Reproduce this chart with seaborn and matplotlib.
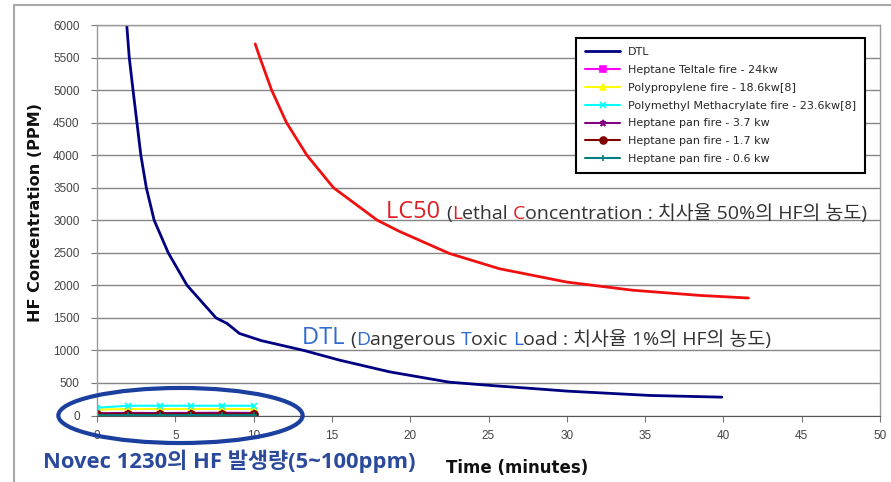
import matplotlib
matplotlib.use("Agg")
import matplotlib.pyplot as plt
import seaborn as sns
from matplotlib.patches import Ellipse
from matplotlib.lines import Line2D

# =============================
# Data
# =============================
dtl_time = [1.9, 2.06, 2.3, 2.55, 2.8, 3.15, 3.65, 4.55, 5.75, 7.6, 8.3, 9.1,
            10.5, 13.2, 15.5, 18.7, 22.5, 25.5, 27.8, 30.0, 35.3, 39.9]
dtl_hf = [6000, 5500, 5000, 4500, 4000, 3500, 3000, 2500, 2000, 1500, 1415, 1260,
          1150, 1000, 850, 670, 512, 455, 415, 375, 308, 282]

lc50_time = [10.1, 10.4, 11.15, 12.1, 13.4, 15.1, 17.9, 19.3, 22.5, 25.7, 30.0, 34.2, 38.5, 41.6]
lc50_hf = [5710, 5500, 5000, 4500, 4000, 3500, 3000, 2830, 2490, 2255, 2050, 1925, 1845, 1805]

fire_time = [0, 2, 4, 6, 8, 10]
teltale_24kw = [10, 12, 10, 12, 10, 12]
polypropylene = [90, 100, 100, 100, 100, 100]
pmma = [120, 150, 150, 150, 150, 150]
heptane_37kw = [35, 40, 38, 40, 42, 40]
heptane_17kw = [20, 22, 20, 22, 20, 22]
heptane_06kw = [5, 6, 5, 6, 5, 6]

fire_series = [
    ("Heptane Teltale fire - 24kw", teltale_24kw, "#ff00ff", "s"),
    ("Polypropylene fire - 18.6kw[8]", polypropylene, "#ffff00", "^"),
    ("Polymethyl Methacrylate fire - 23.6kw[8]", pmma, "#00ffff", "x"),
    ("Heptane pan fire - 3.7 kw", heptane_37kw, "#800080", "*"),
    ("Heptane pan fire - 1.7 kw", heptane_17kw, "#800000", "o"),
    ("Heptane pan fire - 0.6 kw", heptane_06kw, "#008080", "+"),
]

x_ticks = list(range(0, 51, 5))
y_ticks = list(range(0, 6001, 500))

# =============================
# Style
# =============================
sns.set_style("white")
plt.rcParams["font.family"] = ["Liberation Sans", "DejaVu Sans"]
KR = ["Open Sans", "Noto Sans CJK KR", "DejaVu Sans"]

W, H = 891, 482
fig = plt.figure(figsize=(W / 100, H / 100), dpi=100)
x0, x1, ytop, ybot = 97, 880, 25, 415.5
ax = fig.add_axes([x0 / W, (H - ybot) / H, (x1 - x0) / W, (ybot - ytop) / H])

# =============================
# Plotting
# =============================
sns.lineplot(x=dtl_time, y=dtl_hf, color="#000080", linewidth=2.0, label="DTL",
             sort=False, ax=ax)
for name, vals, col, mk in fire_series:
    sns.lineplot(x=fire_time, y=vals, color=col, marker=mk, markersize=5,
                 markeredgecolor=col, markeredgewidth=1.2, linewidth=1.5,
                 label=name, ax=ax)
sns.lineplot(x=lc50_time, y=lc50_hf, color="#f01010", linewidth=2.0, legend=False,
             sort=False, ax=ax)

ax.set_xlim(0, 50)
ax.set_ylim(0, 6000)
ax.set_xticks(x_ticks)
ax.set_yticks(y_ticks)
ax.yaxis.grid(True, color="#858585", linewidth=1.0)
ax.xaxis.grid(False)
for side in ["top", "right", "left"]:
    ax.spines[side].set_color("#9a9a9a")
    ax.spines[side].set_linewidth(1.0)
ax.spines["bottom"].set_color("#555555")
ax.tick_params(axis="both", direction="out", length=4.5, width=0.8, color="#777777",
               labelsize=8.5, labelcolor="#444444")
ax.tick_params(axis="y", pad=8, left=True)
ax.tick_params(axis="x", pad=6, bottom=True)

ax.set_ylabel("HF Concentration (PPM)", fontsize=11.6, fontweight="bold", color="#111111",
              family="DejaVu Sans")
ax.yaxis.set_label_coords((43 - x0) / (x1 - x0), (ybot - 212) / (ybot - ytop))
ax.set_xlabel("Time (minutes)", fontsize=12, fontweight="bold", color="#111111",
              family="DejaVu Sans")
ax.xaxis.set_label_coords((517 - x0) / (x1 - x0), (ybot - 459) / (ybot - ytop))

leg = ax.legend(loc="upper right", bbox_to_anchor=(0.981, 0.967), frameon=True,
                fancybox=False, edgecolor="black", framealpha=1,
                prop={"family": "DejaVu Sans", "size": 8},
                handlelength=3.1, labelspacing=0.7, borderpad=0.85,
                handletextpad=0.7, borderaxespad=0)
leg.get_frame().set_linewidth(1.5)


# =============================
# Annotations
# =============================
def colored_text(x, y, head, parts, big=17, small=14):
    t = ax.text(x, y, head[0], color=head[1], fontsize=big, family=KR, va="baseline")
    for i, (s, c) in enumerate(parts):
        dy = 0.5 if i == 0 else 0
        t = ax.annotate(s, xy=(1, 0), xycoords=t, xytext=(0, dy),
                        textcoords="offset points", va="bottom",
                        color=c, fontsize=small, family=KR)
    return t


red, blue, dark = "#dd2026", "#2f6bcf", "#333333"
colored_text(18.45, 3040, ("LC50 ", red), [
    ("(", dark), ("L", red), ("ethal ", dark), ("C", red),
    ("oncentration : 치사율 50%의 HF의 농도)", dark)])
colored_text(13.07, 1105, ("DTL ", blue), [
    ("(", dark), ("D", blue), ("angerous ", dark), ("T", blue), ("oxic ", dark),
    ("L", blue), ("oad : 치사율 1%의 HF의 농도)", dark)])

ax.add_patch(Ellipse((5.33, 0), 15.6, 846, fill=False, edgecolor="#1b3f9e",
                     linewidth=3, clip_on=False, zorder=5))
fig.text(43 / W, (H - 468) / H, "Novec 1230의 HF 발생량(5~100ppm)", family=KR,
         fontsize=15.8, fontweight="bold", color="#2b4a9c", va="baseline")

# outer chart-area border
fig.add_artist(Line2D([14 / W, 14 / W], [0, (H - 5) / H], transform=fig.transFigure,
                      color="#a8a8a8", linewidth=1.5))
fig.add_artist(Line2D([14 / W, 1], [(H - 5) / H, (H - 5) / H], transform=fig.transFigure,
                      color="#a8a8a8", linewidth=1.5))

plt.savefig("out.png", dpi=100)
